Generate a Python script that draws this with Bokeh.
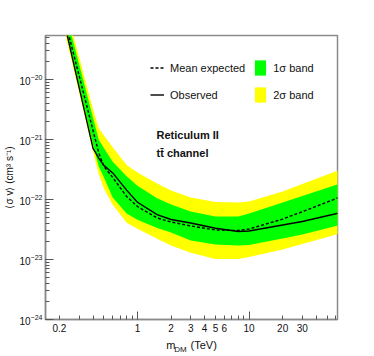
import math
from bokeh.plotting import figure
from bokeh.models import (Range1d, FixedTicker, LogAxis, Label, Legend, LegendItem,
                          LogTicker, ColumnDataSource)
from bokeh.embed import file_html
from bokeh.resources import INLINE

# ---- data ----
mass = [0.2, 0.25, 0.3, 0.4, 0.45, 0.5, 0.6, 0.8, 1, 1.5, 2, 3, 5, 8, 10, 20, 30, 63]
observed = [2.0e-19, 3.26e-20, 7.4e-21, 7.1e-22, 4.9e-22, 3.7e-22, 2.77e-22, 1.43e-22, 9.0e-23,
            5.6e-23, 4.64e-23, 4.06e-23, 3.32e-23, 2.93e-23, 2.99e-23, 3.76e-23, 4.3e-23, 5.9e-23]
expected = [2.24e-19, 4.38e-20, 1.16e-20, 1.41e-21, 5.98e-22, 3.55e-22, 2.33e-22, 1.12e-22, 7.64e-23,
            4.92e-23, 4.22e-23, 3.62e-23, 3.1e-23, 3.04e-23, 3.22e-23, 4.71e-23, 6.24e-23, 1.07e-22]
one_sigma_hi = [3.2e-19, 6.56e-20, 1.79e-20, 2.29e-21, 9.9e-22, 7.19e-22, 4.25e-22, 2.43e-22, 1.69e-22,
                1.05e-22, 8.28e-23, 6.31e-23, 5.21e-23, 5.21e-23, 5.84e-23, 8.9e-23, 1.14e-22, 1.8e-22]
one_sigma_lo = [2.05e-19, 3.47e-20, 8.2e-21, 8.35e-22, 3.53e-22, 2.34e-22, 1.08e-22, 5.84e-23, 4.6e-23,
                3.35e-23, 2.82e-23, 2.07e-23, 1.78e-23, 1.71e-23, 1.74e-23, 2.24e-23, 2.61e-23, 3.7e-23]
two_sigma_hi = [3.92e-19, 8.3e-20, 2.36e-20, 3.2e-21, 1.55e-21, 1.18e-21, 7.44e-22, 3.76e-22, 2.82e-22,
                1.85e-22, 1.41e-22, 1.08e-22, 9.08e-23, 8.9e-23, 9.26e-23, 1.36e-22, 1.81e-22, 3.05e-22]
two_sigma_lo = [1.46e-19, 2.52e-20, 6.05e-21, 6.31e-22, 2.67e-22, 1.52e-22, 8.16e-23, 4.09e-23, 3.24e-23,
                2.22e-23, 1.71e-23, 1.29e-23, 1.02e-23, 1.02e-23, 1.1e-23, 1.47e-23, 1.81e-23, 2.66e-23]

x_label_ticks = [0.2, 1, 2, 3, 4, 5, 6, 10, 20, 30]
x_decade_ticks = [1, 10]
x_minor_ticks = [0.2, 0.3, 0.4, 0.5, 0.6, 0.7, 0.8, 0.9, 2, 3, 4, 5, 6, 7, 8, 9, 20, 30, 40, 50, 60]
x_limits = (0.15, 62)
y_limits = (1e-24, 5.4e-20)

FONT = "Liberation Sans"
AXC = "#8a8a8a"
TICKC = "#555555"
FS = "\u2007"  # figure space used to offset the subscript

p = figure(width=366, height=356, x_axis_type="log", y_axis_type="log",
           x_range=Range1d(*x_limits), y_range=Range1d(*y_limits),
           output_backend="svg", toolbar_location=None,
           min_border_left=45, min_border_right=29, min_border_top=35, min_border_bottom=36,
           background_fill_color="white", border_fill_color="white")
p.grid.visible = False
p.outline_line_color = AXC
p.outline_line_width = 1.5

src = ColumnDataSource(dict(m=mass, obs=observed, exp=expected, s1h=one_sigma_hi,
                            s1l=one_sigma_lo, s2h=two_sigma_hi, s2l=two_sigma_lo))

r2 = p.varea(x="m", y1="s2l", y2="s2h", source=src, fill_color="#ffff00")
r1 = p.varea(x="m", y1="s1l", y2="s1h", source=src, fill_color="#00ff00")
r_exp = p.line(x="m", y="exp", source=src, line_color="black", line_width=1.4, line_dash="3 2")
r_obs = p.line(x="m", y="obs", source=src, line_color="black", line_width=1.4)

# x axis: ticks only (decade long ticks), then labels
xa = p.xaxis[0]
xa.ticker = FixedTicker(ticks=x_decade_ticks, minor_ticks=x_minor_ticks)
xa.major_tick_in = 8
xa.major_tick_out = 0
xa.minor_tick_in = 4
xa.minor_tick_out = 0
xa.major_label_text_font_size = "1px"
xa.major_label_text_alpha = 0
xa.major_label_standoff = 0
xa.axis_line_color = AXC
xa.axis_line_width = 1.5
xa.major_tick_line_color = TICKC
xa.minor_tick_line_color = TICKC

xb = LogAxis(ticker=FixedTicker(ticks=x_label_ticks, minor_ticks=[]))
xb.major_tick_in = 0
xb.major_tick_out = 0
xb.minor_tick_in = 0
xb.minor_tick_out = 0
xb.axis_line_color = None
xb.major_label_standoff = 4
xb.major_label_text_font = FONT
xb.major_label_text_font_size = "10px"
xb.major_label_text_color = "#111111"
xb.axis_label = "m" + FS + FS + " (TeV)"
xb.axis_label_text_font = FONT
xb.axis_label_text_font_size = "11px"
xb.axis_label_text_font_style = "normal"
xb.axis_label_text_color = "#111111"
xb.axis_label_standoff = 4
p.add_layout(xb, "below")

xc = LogAxis(ticker=FixedTicker(ticks=[], minor_ticks=[]))
xc.major_tick_in = 0
xc.major_tick_out = 0
xc.axis_line_color = None
xc.axis_label = "DM" + FS * 5
xc.axis_label_text_font = FONT
xc.axis_label_text_font_size = "8px"
xc.axis_label_text_font_style = "normal"
xc.axis_label_text_color = "#111111"
xc.axis_label_standoff = -9
p.add_layout(xc, "below")

ya = p.yaxis[0]
ya.ticker = LogTicker(num_minor_ticks=10)
ya.major_tick_in = 8
ya.major_tick_out = 0
ya.minor_tick_in = 4
ya.minor_tick_out = 0
ya.axis_line_color = AXC
ya.axis_line_width = 1.5
ya.major_tick_line_color = TICKC
ya.minor_tick_line_color = TICKC
ya.major_label_text_font = FONT
ya.major_label_text_font_size = "10px"
ya.major_label_text_color = "#111111"
ya.major_label_standoff = 3
ya.axis_label = "\u27e8\u03c3 v\u27e9 (cm\u00b3 s\u207b\u00b9)"
ya.axis_label_text_font = FONT
ya.axis_label_text_font_size = "10px"
ya.axis_label_text_font_style = "normal"
ya.axis_label_text_color = "#111111"
ya.axis_label_standoff = 2

def lab(text, x, y, size="11px"):
    p.add_layout(Label(x=x, y=y, x_units="screen", y_units="screen", text=text,
                       text_font=FONT, text_font_size=size, text_color="#111111",
                       text_font_style="bold", text_align="left", text_baseline="middle"))

lab("Reticulum II", 111, 185)
lab("tt\u0304 channel", 111, 167)

legend = Legend(items=[LegendItem(label="Mean expected", renderers=[r_exp]),
                       LegendItem(label="Observed", renderers=[r_obs]),
                       LegendItem(label="1\u03c3 band", renderers=[r1]),
                       LegendItem(label="2\u03c3 band", renderers=[r2])],
                location=(105, 215), ncols=2,
                glyph_width=14, glyph_height=19, label_height=19, label_standoff=6,
                spacing=8, padding=0, margin=0, border_line_color=None,
                background_fill_alpha=0, label_text_font=FONT, label_text_font_size="11px",
                label_text_color="#111111")
p.add_layout(legend, "center")

open("out.html", "w").write(file_html(p, INLINE))
